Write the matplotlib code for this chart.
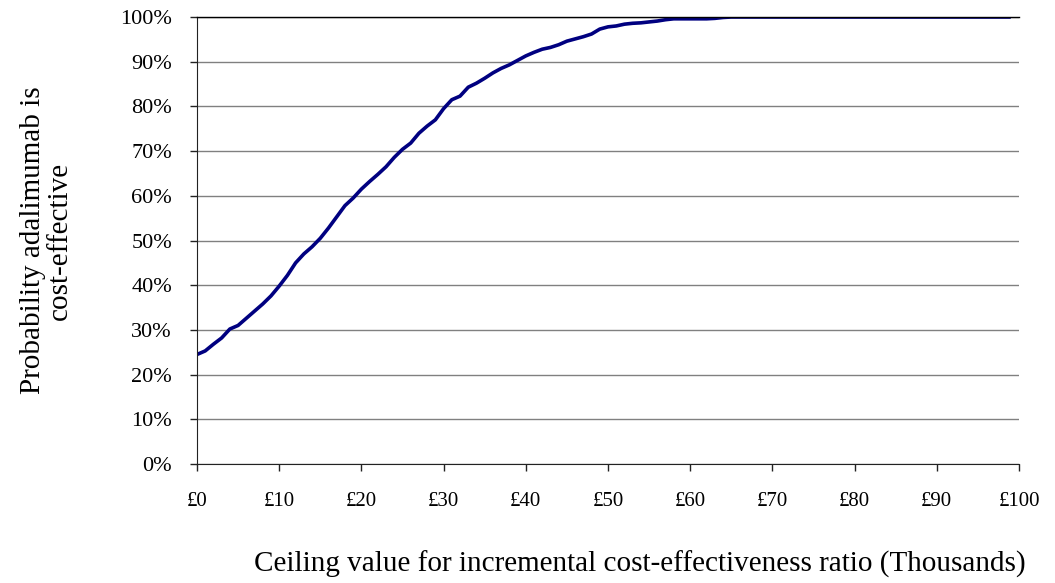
import numpy as np
import matplotlib.pyplot as plt
from matplotlib.ticker import FuncFormatter

# Ceiling value (thousands of pounds) and probability cost-effective (%)
ceiling = list(range(0, 100))
prob = [24.5, 25.3, 26.8, 28.2, 30.2, 31.0, 32.6, 34.2, 35.8, 37.6,
        39.8, 42.2, 45.0, 47.0, 48.6, 50.5, 52.8, 55.3, 57.8, 59.5,
        61.5, 63.2, 64.8, 66.5, 68.6, 70.4, 71.8, 74.0, 75.6, 77.0,
        79.5, 81.5, 82.3, 84.3, 85.2, 86.3, 87.5, 88.5, 89.3, 90.3,
        91.3, 92.1, 92.8, 93.2, 93.8, 94.6, 95.1, 95.6, 96.2, 97.3,
        97.8, 98.0, 98.4, 98.6, 98.7, 98.9, 99.1, 99.4, 99.6, 99.6,
        99.6, 99.6, 99.6, 99.7, 99.9] + [100.0] * 35

xticks = list(range(0, 101, 10))
yticks = list(range(0, 101, 10))

plt.rcParams['font.family'] = ['Liberation Serif', 'DejaVu Serif']

fig = plt.figure(figsize=(10.55, 5.83), dpi=100)
ax = fig.add_axes([0.1867, 0.2041, 0.7792, 0.7667])

ax.plot(ceiling, prob, color='#000080', linewidth=2.6, solid_capstyle='butt')

ax.set_xlim(0, 100)
ax.set_ylim(0, 100)
ax.set_xticks(xticks)
ax.set_yticks(yticks)
ax.xaxis.set_major_formatter(FuncFormatter(lambda v, p: '£%d' % v))
ax.yaxis.set_major_formatter(FuncFormatter(lambda v, p: '%d%%' % v))
ax.tick_params(axis='x', direction='out', length=5, width=1, color='#222222',
               labelsize=15, pad=15)
ax.tick_params(axis='y', direction='out', length=5, width=1, color='#222222',
               labelsize=16, pad=13)

ax.grid(axis='y', color='#808080', linewidth=1)
ax.set_axisbelow(True)
ax.spines['right'].set_visible(False)
ax.spines['top'].set_color('black')
ax.spines['top'].set_linewidth(1)
ax.spines['left'].set_color('#222222')
ax.spines['bottom'].set_color('#222222')

ax.set_ylabel('Probability adalimumab is\ncost-effective', fontsize=21,
              labelpad=34, linespacing=1.05)
ax.set_xlabel('Ceiling value for incremental cost-effectiveness ratio (Thousands)',
              fontsize=21)
ax.xaxis.set_label_coords(0.539, -0.195)

plt.savefig('out.png', dpi=100)
